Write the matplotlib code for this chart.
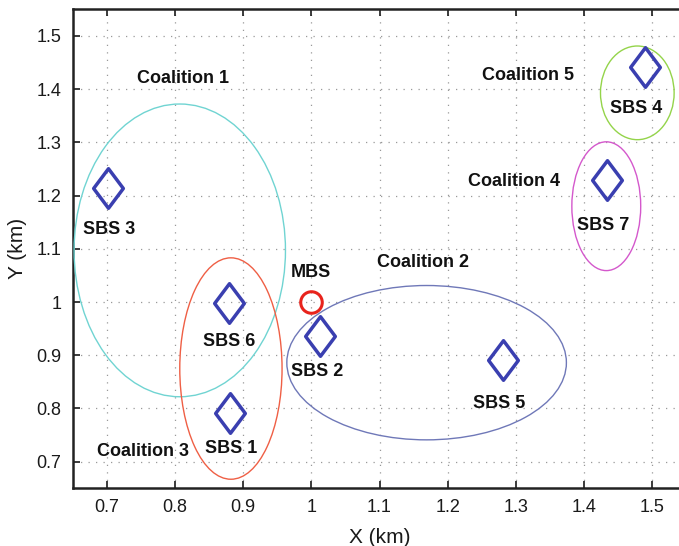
import matplotlib
matplotlib.use("Agg")
import matplotlib.pyplot as plt
from matplotlib.patches import Ellipse
from matplotlib.path import Path

plt.rcParams['font.family'] = ['Liberation Sans', 'DejaVu Sans']

# Small base stations
sbs_names = ["SBS 1", "SBS 2", "SBS 3", "SBS 4", "SBS 5", "SBS 6", "SBS 7"]
sbs_x = [0.88, 1.012, 0.702, 1.490, 1.281, 0.879, 1.433]
sbs_y = [0.792, 0.937, 1.215, 1.441, 0.891, 0.998, 1.230]
sbs_label_x = [0.882, 1.009, 0.704, 1.476, 1.276, 0.879, 1.428]
sbs_label_y = [0.724, 0.869, 1.136, 1.364, 0.809, 0.926, 1.144]

# Macro base station
mbs_x = [1.0]
mbs_y = [1.0]
mbs_label = "MBS"
mbs_label_xy = (1.0, 1.056)

# Coalitions (ellipses)
coal_names = ["Coalition 1", "Coalition 2", "Coalition 3", "Coalition 4", "Coalition 5"]
coal_cx = [0.807, 1.169, 0.882, 1.4325, 1.478]
coal_cy = [1.097, 0.886, 0.875, 1.180, 1.393]
coal_w = [0.310, 0.410, 0.150, 0.101, 0.108]
coal_h = [0.550, 0.290, 0.416, 0.242, 0.176]
coal_colors = ["#70d4d2", "#6f78b8", "#ef5f45", "#d458cc", "#94d44a"]
coal_label_x = [0.8116, 1.164, 0.753, 1.297, 1.318]
coal_label_y = [1.4207, 1.075, 0.720, 1.2256, 1.425]

xticks = [0.7, 0.8, 0.9, 1.0, 1.1, 1.2, 1.3, 1.4, 1.5]
xticklabels = ["0.7", "0.8", "0.9", "1", "1.1", "1.2", "1.3", "1.4", "1.5"]
yticks = [0.7, 0.8, 0.9, 1.0, 1.1, 1.2, 1.3, 1.4, 1.5]
yticklabels = ["0.7", "0.8", "0.9", "1", "1.1", "1.2", "1.3", "1.4", "1.5"]

fig = plt.figure(figsize=(6.79, 5.46), dpi=100)
ax = fig.add_axes([0.1071, 0.1057, 0.9038, 0.8773])
ax.set_xlim(0.65, 1.55)
ax.set_ylim(0.65, 1.55)

ax.set_xticks(xticks)
ax.set_xticklabels(xticklabels)
ax.set_yticks(yticks)
ax.set_yticklabels(yticklabels)
ax.tick_params(direction='in', top=True, right=True, length=5, width=1.2,
               labelsize=13, colors='#1a1a1a', pad=8)
ax.grid(True, linestyle=(0, (1, 5)), color='#999999', linewidth=0.9)
for s in ax.spines.values():
    s.set_linewidth(1.8)
    s.set_color('#222222')

for cx, cy, w, h, c in zip(coal_cx, coal_cy, coal_w, coal_h, coal_colors):
    ax.add_patch(Ellipse((cx, cy), w, h, fill=False, edgecolor=c, linewidth=1.0, zorder=3))

diamond = Path([(0, 1), (0.75, 0), (0, -1), (-0.75, 0), (0, 1)],
               [Path.MOVETO, Path.LINETO, Path.LINETO, Path.LINETO, Path.CLOSEPOLY])
ax.plot(sbs_x, sbs_y, linestyle='none', marker=diamond, markersize=28.5,
        markerfacecolor='none', markeredgecolor='#3a3fb0', markeredgewidth=2.5, zorder=4)
ax.plot(mbs_x, mbs_y, linestyle='none', marker='o', markersize=15.5,
        markerfacecolor='none', markeredgecolor='#e8231c', markeredgewidth=2.2, zorder=4)

for name, lx, ly in zip(sbs_names, sbs_label_x, sbs_label_y):
    ax.text(lx, ly, name, ha='center', va='center', fontsize=13, fontweight='bold',
            color='#111111', zorder=5)
ax.text(mbs_label_xy[0], mbs_label_xy[1], mbs_label, ha='center', va='center',
        fontsize=13, fontweight='bold', color='#111111', zorder=5)
for name, lx, ly in zip(coal_names, coal_label_x, coal_label_y):
    ax.text(lx, ly, name, ha='center', va='center', fontsize=13, fontweight='bold',
            color='#111111', zorder=5)

ax.set_xlabel("X (km)", fontsize=15, color='#1a1a1a', labelpad=8)
ax.set_ylabel("Y (km)", fontsize=15, color='#1a1a1a', labelpad=7)

fig.savefig("out.png", dpi=100)
